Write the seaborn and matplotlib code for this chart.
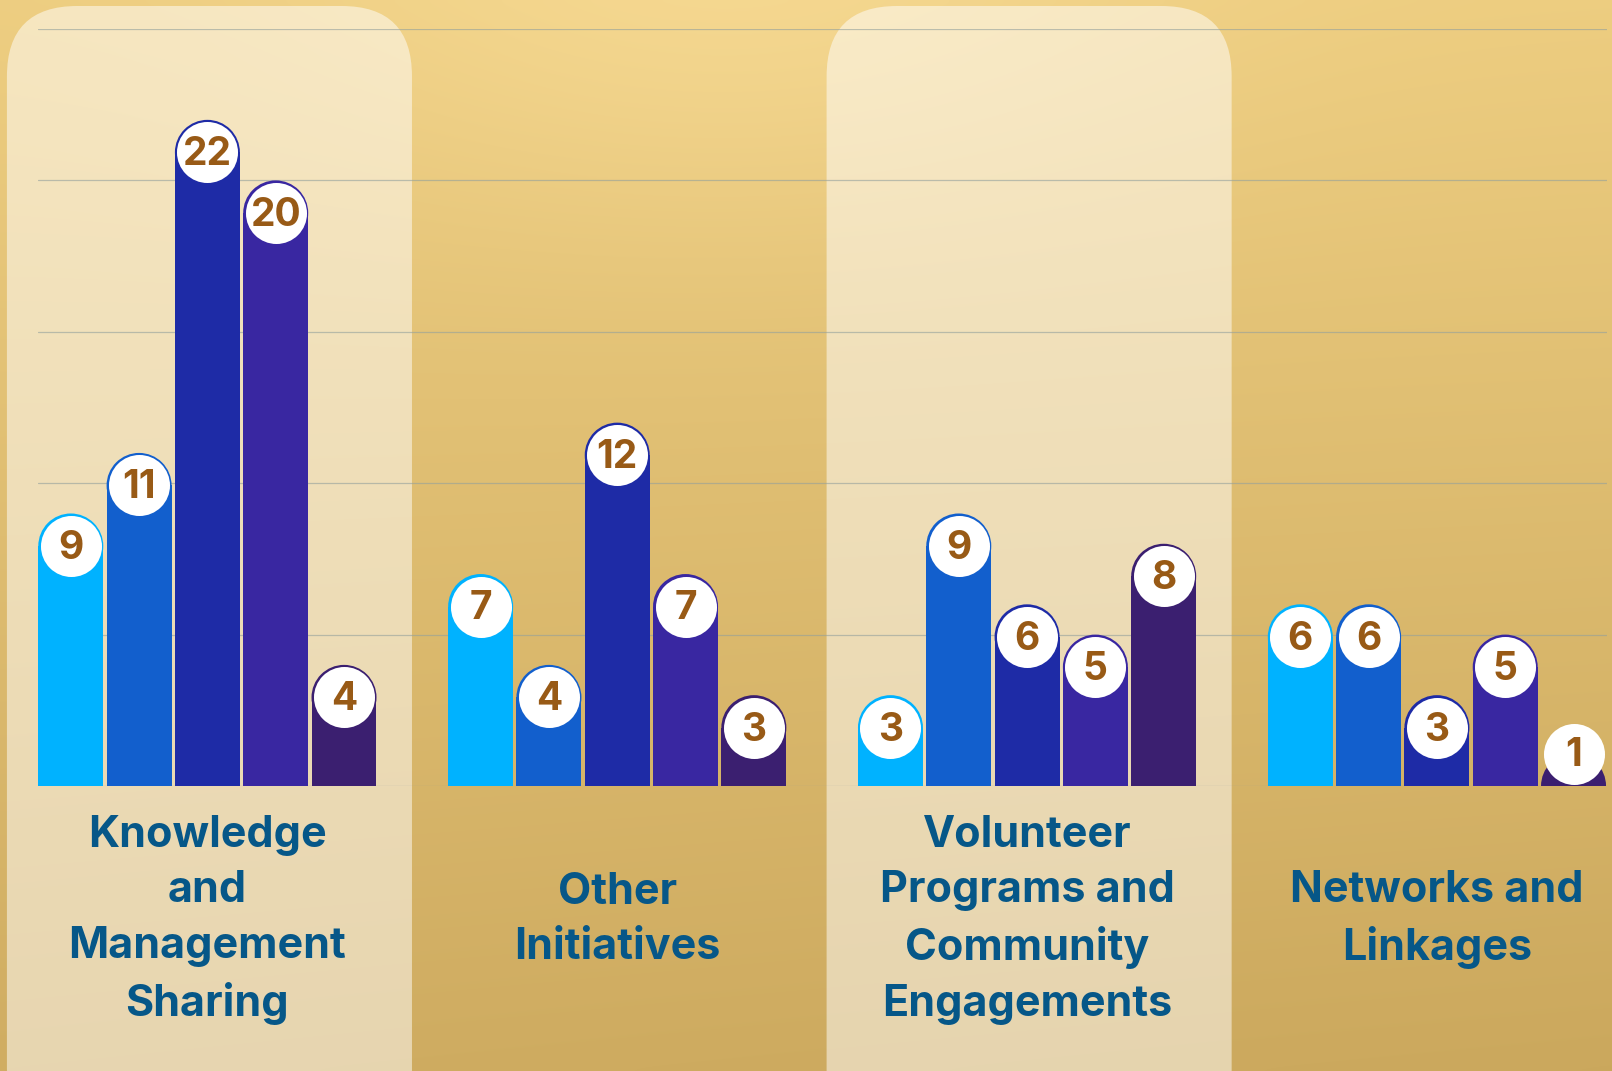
import numpy as np
import pandas as pd
import seaborn as sns
import matplotlib.pyplot as plt
from matplotlib.patches import FancyBboxPatch
from matplotlib.colors import to_rgb

# chart data
categories = ["Knowledge\nand\nManagement\nSharing", "Other\nInitiatives",
              "Volunteer\nPrograms and\nCommunity\nEngagements", "Networks and\nLinkages"]
series = ["Series 1", "Series 2", "Series 3", "Series 4", "Series 5"]
series_1 = [9, 7, 3, 6]
series_2 = [11, 4, 9, 6]
series_3 = [22, 12, 6, 3]
series_4 = [20, 7, 5, 5]
series_5 = [4, 3, 8, 1]
bar_colors = ["#00B2FF", "#125FCD", "#1E2BA6", "#3927A1", "#3B1F70"]

sns.set_style("white")
plt.rcParams["font.family"] = ["Inter", "DejaVu Sans"]

# long table, one row per bar; each group takes 6 slots (5 bars + gap)
rows = []
for s, vals in enumerate([series_1, series_2, series_3, series_4, series_5]):
    for g, v in enumerate(vals):
        rows.append({"pos": g * 6 + s, "value": v, "series": series[s]})
df = pd.DataFrame(rows)

W, H = 1612, 1071
fig = plt.figure(figsize=(W / 100, H / 100), dpi=100)

# golden background
bg = fig.add_axes([0, 0, 1, 1], zorder=0)
yy, xx = np.mgrid[0:1:200j, 0:1:300j]
top = np.array(to_rgb("#EDCD80"))
bot = np.array(to_rgb("#D0AD62"))
img = top[None, None, :] * (1 - yy[..., None]) + bot[None, None, :] * yy[..., None]
glow = np.exp(-((xx - 0.45) ** 2) / 0.08 - (yy ** 2) / 0.05)
img = img + glow[..., None] * np.array([0.03, 0.04, 0.06])
img = img - (xx * yy)[..., None] * 0.02
bg.imshow(np.clip(img, 0, 1), aspect="auto", extent=[0, 1, 0, 1], interpolation="bicubic")
bg.set_axis_off()

# main axes
ax = fig.add_axes([38 / W, 1 - 786 / H, 1569 / W, 757 / H], zorder=1)
ax.set_facecolor("none")

px_y = 757 / 25          # pixels per value unit
r_y = 32.5 / px_y        # bar cap radius in value units
df["rect"] = (df["value"] - r_y).clip(lower=0)
df["label_y"] = np.maximum(df["value"] - r_y, r_y)

sns.barplot(data=df, x="pos", y="rect", hue="series", palette=bar_colors,
            native_scale=True, width=0.95, dodge=False, legend=False,
            errorbar=None, saturation=1, linewidth=0, zorder=2, ax=ax)

cmap = dict(zip(series, bar_colors))
ax.scatter(df["pos"], df["rect"], s=2190, c=df["series"].map(cmap),
           linewidths=0, zorder=3)
ax.scatter(df["pos"], df["label_y"], s=1930, c="white", linewidths=0, zorder=4)
for _, r in df.iterrows():
    ax.text(r["pos"], r["label_y"] - 0.08, str(r["value"]), ha="center", va="center",
            fontsize=28, fontweight="bold", color="#985A16", zorder=5)

# lighter panels behind groups 1 and 3
for g in [0, 2]:
    c = g * 6 + 2.03
    ax.add_patch(FancyBboxPatch((c - 2.965, -14), 5.93, 25.76 + 14,
                                boxstyle="round,pad=0,rounding_size=1.03",
                                mutation_aspect=2.255, facecolor="white",
                                alpha=0.5, linewidth=0, clip_on=False, zorder=0.2))

# category labels
for g, cat in enumerate(categories):
    ax.text(g * 6 + 2, -4.42, cat, ha="center", va="center", fontsize=31,
            fontweight="bold", color="#065788", linespacing=1.45, clip_on=False)

ax.set_xlim(-0.48, 22.49)
ax.set_ylim(0, 25)
ax.set_yticks([0, 5, 10, 15, 20, 25])
ax.grid(axis="y", color="#93A09C", linewidth=0.9, alpha=0.6)
ax.grid(axis="x", visible=False)
ax.set_axisbelow(True)
ax.tick_params(left=False, bottom=False, labelleft=False, labelbottom=False)
ax.set_xlabel("")
ax.set_ylabel("")
sns.despine(ax=ax, left=True, bottom=True)

fig.savefig("out.png", dpi=100)
